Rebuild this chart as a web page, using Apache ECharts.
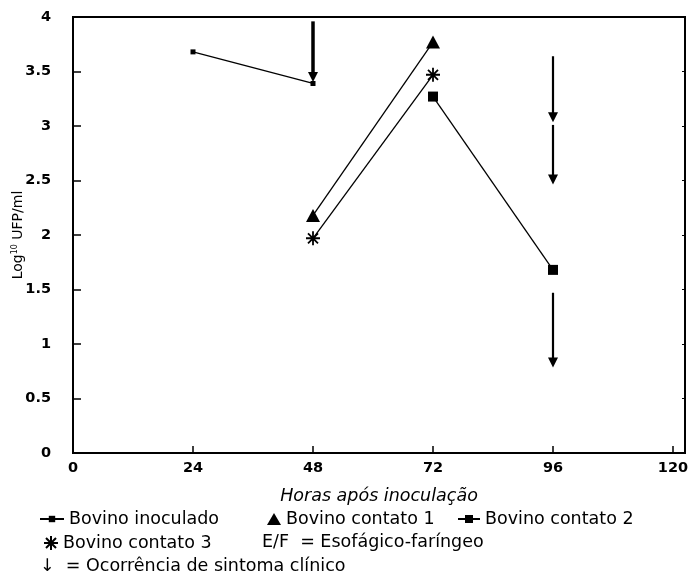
<!DOCTYPE html>
<html>
<head>
<meta charset="utf-8">
<script src="https://cdn.jsdelivr.net/npm/echarts@6/dist/echarts.min.js"></script>
<style>
html, body { margin: 0; padding: 0; background: #fff; }
#chart { width: 693px; height: 577px; }
</style>
</head>
<body>
<div id="chart"></div>
<script>
// horas apos inoculacao
const xTicks = [0, 24, 48, 72, 96, 120]
const yTicks = [0, 0.5, 1, 1.5, 2, 2.5, 3, 3.5, 4]

// log10 UFP/ml
const inoculado = [[24, 3.68], [48, 3.39]]
const contato1 = [[48, 2.18], [72, 3.77]]
const contato2 = [[72, 3.27], [96, 1.68]]
const contato3 = [[48, 1.97], [72, 3.47]]

// setas: [hora, inicio, ponta]
const arrows = [[48, 3.96, 3.45], [96, 3.64, 3.08], [96, 3.01, 2.51], [96, 1.47, 0.83]]

const FONT = 'DejaVu Sans'
const asterisk = 'path://M7,0L7,14M0,7L14,7M2,2L12,12M2,12L12,2'

let myChart = echarts.init(document.getElementById('chart'))

const legendBase = {
    orient: 'horizontal',
    itemGap: 0,
    textStyle: { fontFamily: FONT, fontSize: 17.5, color: '#000' },
    selectedMode: false,
}

let option = {
    animation: false,
    grid: {
        left: 73, top: 17, width: 612, height: 436,
        outerBoundsMode: 'none', containLabel: false,
        show: true, borderColor: '#000', borderWidth: 2
    },
    legend: [
        Object.assign({}, legendBase, { data: ['Bovino inoculado'], left: 34, top: 505, itemWidth: 24, itemHeight: 8 }),
        Object.assign({}, legendBase, { data: [{ name: 'Bovino contato 1', icon: 'triangle' }], left: 262, top: 505, itemWidth: 14, itemHeight: 12 }),
        Object.assign({}, legendBase, { data: ['Bovino contato 2'], left: 452, top: 505, itemWidth: 22, itemHeight: 10 }),
        Object.assign({}, legendBase, { data: [{ name: 'Bovino contato 3', icon: asterisk }], left: 38, top: 529, itemWidth: 14, itemHeight: 14 }),
    ],
    graphic: [
        { type: 'text', left: 262, top: 533, style: { text: 'E/F  = Esofágico-faríngeo', font: '17.5px "DejaVu Sans"', fill: '#000' } },
        { type: 'text', left: 40, top: 557, style: { text: '↓  = Ocorrência de sintoma clínico', font: '17.5px "DejaVu Sans"', fill: '#000' } },
    ],
    xAxis: {
        type: 'value',
        min: 0,
        max: 122.4,
        interval: 24,
        name: 'Horas após inoculação',
        nameLocation: 'middle',
        nameGap: 34,
        nameMoveOverlap: false,
        nameTextStyle: { fontFamily: FONT, fontSize: 17.5, fontStyle: 'italic', color: '#000' },
        axisLine: { lineStyle: { color: '#000', width: 2 } },
        axisTick: { inside: true, length: 7, lineStyle: { color: '#000', width: 1.5 } },
        axisLabel: {
            color: '#000', fontFamily: FONT, fontSize: 14.5, fontWeight: 'bold', margin: 8,
            formatter: v => xTicks.indexOf(v) >= 0 ? String(v) : ''
        },
        splitLine: { show: false },
    },
    yAxis: [
        {
            type: 'value',
            min: 0,
            max: 4,
            interval: 0.5,
            name: 'Log{sup|10} UFP/ml',
            nameLocation: 'middle',
            nameGap: 47,
            nameMoveOverlap: false,
            nameTextStyle: {
                fontFamily: FONT, fontSize: 14, color: '#000',
                rich: { sup: { fontFamily: FONT, fontSize: 8, color: '#000', verticalAlign: 'bottom', padding: [0, 0, 7, 0] } }
            },
            axisLine: { show: true, lineStyle: { color: '#000', width: 2 } },
            axisTick: { show: true, inside: true, length: 8, lineStyle: { color: '#000', width: 1.5 } },
            axisLabel: {
                color: '#000', fontFamily: FONT, fontSize: 14.5, fontWeight: 'bold', margin: 22,
                formatter: v => yTicks.indexOf(v) >= 0 ? String(v) : ''
            },
            splitLine: { show: false },
        },
        {
            type: 'value',
            min: 0,
            max: 4,
            interval: 0.5,
            position: 'right',
            axisLine: { show: true, lineStyle: { color: '#000', width: 2 } },
            axisTick: { show: true, inside: true, length: 3, lineStyle: { color: '#000', width: 1 } },
            axisLabel: { show: false },
            splitLine: { show: false },
        }
    ],
    series: [
        {
            name: 'Bovino inoculado',
            type: 'line',
            data: inoculado,
            symbol: 'rect',
            symbolSize: 5,
            itemStyle: { color: '#000' },
            lineStyle: { color: '#000', width: 1.3 },
        },
        {
            name: 'Bovino contato 1',
            type: 'line',
            data: contato1,
            symbol: 'triangle',
            symbolSize: [14, 13],
            itemStyle: { color: '#000' },
            lineStyle: { color: '#000', width: 1.3 },
        },
        {
            name: 'Bovino contato 2',
            type: 'line',
            data: contato2,
            symbol: 'rect',
            symbolSize: 10,
            itemStyle: { color: '#000' },
            lineStyle: { color: '#000', width: 1.3 },
        },
        {
            name: 'Bovino contato 3',
            type: 'line',
            data: contato3,
            symbol: asterisk,
            symbolSize: 14,
            itemStyle: { color: 'transparent', borderColor: '#000', borderWidth: 1.8 },
            lineStyle: { color: '#000', width: 1.3 },
        },
        {
            name: 'sintoma',
            type: 'line',
            data: [],
            markLine: {
                silent: true,
                symbol: ['none', 'triangle'],
                symbolSize: 10,
                label: { show: false },
                lineStyle: { color: '#000', width: 2.2, type: 'solid' },
                data: arrows.map((a, i) => [
                    { coord: [a[0], a[1]], lineStyle: { width: i === 0 ? 3.5 : 2.2 } },
                    { coord: [a[0], a[2]] }
                ]),
            },
        },
    ]
}
myChart.setOption(option)
window.addEventListener('resize', function () {
    myChart.resize()
})
</script>
</body>
</html>
